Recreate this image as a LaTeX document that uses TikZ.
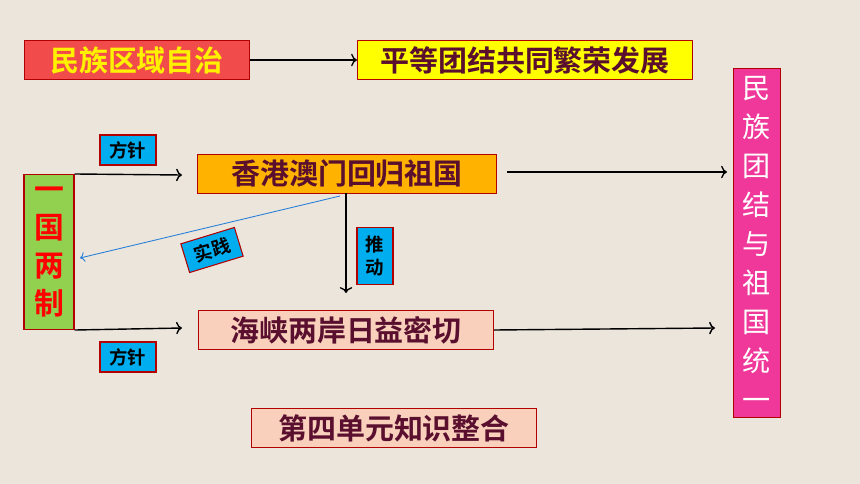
\documentclass[tikz,border=0pt]{standalone}
\usepackage{fontspec}
\newfontfamily\cjk{Noto Sans CJK SC}[BoldFont={Noto Sans CJK SC Bold}]
\usetikzlibrary{positioning,arrows.meta}
\definecolor{bgc}{HTML}{ECE5DC}
\definecolor{maroon}{HTML}{5A0F2E}
\definecolor{redbox}{HTML}{F24B4B}
\definecolor{yelbox}{HTML}{FFFF00}
\definecolor{orabox}{HTML}{FFB300}
\definecolor{pinkbox}{HTML}{F8D0BC}
\definecolor{cyanbox}{HTML}{00AEEF}
\definecolor{greenbox}{HTML}{92D050}
\definecolor{magbox}{HTML}{F0379A}
\begin{document}
\begin{tikzpicture}[x=0.02cm, y=-0.02cm, >=To,
    every node/.style={font=\cjk\bfseries, inner sep=0pt, draw=red!70!black, line width=0.6pt},
    mainbox/.style={font=\cjk\bfseries\fontsize{16.5}{20}\selectfont, text=maroon, minimum height=0.78cm},
    tagbox/.style={fill=cyanbox, text=black, font=\cjk\bfseries\fontsize{10.5}{13}\selectfont, minimum width=1.12cm, minimum height=0.6cm},
    link/.style={->, line width=0.8pt}]
    % background
    \fill[bgc] (0,0) rectangle (860,484);
    \useasboundingbox (0,0) rectangle (860,484);

    % top row
    \node[mainbox, fill=redbox, text=yellow, minimum width=4.5cm] (zizhi) at (137,60) {民族区域自治};
    \node[mainbox, fill=yelbox, minimum width=6.7cm] (fanrong) at (525,60) {平等团结共同繁荣发展};

    % sides
    \node[fill=greenbox, text=red, font=\cjk\bfseries\fontsize{17}{21.5}\selectfont, align=center, minimum width=1cm, minimum height=3.1cm] (liangzhi) at (49,252) {一\\国\\两\\制};
    \node[fill=magbox, text=white, font=\cjk\fontsize{16}{22.2}\selectfont, align=center, minimum width=0.94cm, minimum height=7cm] (tongyi) at (757,243) {民\\族\\团\\结\\与\\祖\\国\\统\\一};

    % middle
    \node[mainbox, fill=orabox, minimum width=6cm] (huigui) at (347,174) {香港澳门回归祖国};
    \node[mainbox, fill=pinkbox, minimum width=5.9cm] (haixia) at (346,330) {海峡两岸日益密切};
    \node[mainbox, fill=pinkbox, minimum width=5.7cm] (zhenghe) at (394,428) {第四单元知识整合};

    % tags
    \node[tagbox] (fz1) at (128,150) {方针};
    \node[tagbox] (fz2) at (128,357) {方针};
    \node[tagbox, align=center, minimum width=0.72cm, minimum height=1.14cm] (tuidong) at (375,256) {推\\动};
    \node[tagbox, rotate=17] (shijian) at (212,250) {实践};

    % connectors
    \coordinate (a1) at (507,172);
    \coordinate (a2) at (727,172);
    \draw[link] (zizhi.east) -- (fanrong.west);
    \draw[link] (liangzhi.north east) -- (182,175);
    \draw[link] (liangzhi.south east) -- (182,328);
    \draw[link] (a1) -- (a2);
    \draw[link] (haixia.east) -- (715,328);
    \draw[link] (346,193) -- (346,293);
    \draw[->, draw=blue!50!cyan!70!gray, line width=0.5pt] (340,196) -- (80,258);
\end{tikzpicture}
\end{document}
